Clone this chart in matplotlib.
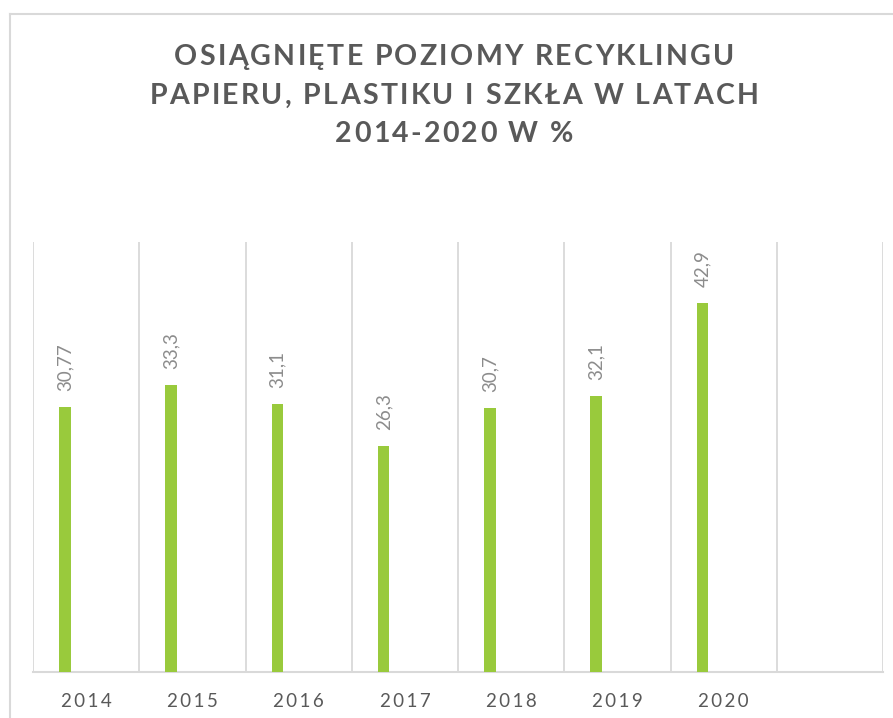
import matplotlib.pyplot as plt
from matplotlib.lines import Line2D
from matplotlib import font_manager
from matplotlib.font_manager import FontProperties
from matplotlib.ft2font import FT2Font, LoadFlags
import numpy as np

plt.rcParams['font.family'] = ['Lato', 'DejaVu Sans']

# data
years = ['2014', '2015', '2016', '2017', '2018', '2019', '2020', '']
values = [30.77, 33.3, 31.1, 26.3, 30.7, 32.1, 42.9]
labels = ['30,77', '33,3', '31,1', '26,3', '30,7', '32,1', '42,9']
title_lines = ['OSIĄGNIĘTE POZIOMY RECYKLINGU',
               'PAPIERU, PLASTIKU I SZKŁA W LATACH',
               '2014-2020 W %']

W, H = 893, 718
DPI = 100


def char_advances(s, prop, size_pt):
    """advance width of every char in pixels"""
    font = FT2Font(font_manager.findfont(prop))
    scale = size_pt * DPI / 72 / font.units_per_EM
    return [font.load_char(ord(c), flags=LoadFlags.NO_SCALE).horiAdvance * scale for c in s]


def spaced_text(fig, s, cx, base, spacing, prop, size_pt, **kw):
    """draw s centred on cx (px) with extra letter spacing, baseline at base (px from top)"""
    adv = char_advances(s, prop, size_pt)
    total = sum(adv) + spacing * (len(s) - 1)
    x = cx - total / 2
    for c, a in zip(s, adv):
        fig.text(x / W, 1 - base / H, c, ha='left', va='baseline',
                 fontproperties=prop, fontsize=size_pt, **kw)
        x += a + spacing


fig = plt.figure(figsize=(W / DPI, H / DPI), dpi=DPI)

# plot area in pixels
left, right, top, bottom = 33, 883, 241.7, 671.7
ax = fig.add_axes([left / W, 1 - bottom / H, (right - left) / W, (bottom - top) / H])

x = np.arange(len(years))
bar_x = x[:len(values)] - 0.2
ax.bar(bar_x, values, width=0.11, color='#99CA3C', zorder=3)

for bx, v, lab in zip(bar_x, values, labels):
    ax.annotate(lab, (bx, v), xytext=(0, 11.5), textcoords='offset points',
                rotation=90, ha='center', va='bottom', fontsize=13.5, color='#8C8C8C')

ax.set_xlim(-0.5, len(years) - 0.5)
ax.set_ylim(0, 50)
ax.set_yticks([])
ax.set_xticks(x)
ax.set_xticklabels(['\u2009'.join(y) for y in years], fontsize=13.5, color='#595959')
ax.set_xticks(np.arange(-0.5, len(years)), minor=True)
ax.tick_params(axis='x', which='both', length=0, pad=15)
ax.grid(which='minor', axis='x', color='#D9D9D9', linewidth=1.3)
for s in ['top', 'right', 'left']:
    ax.spines[s].set_visible(False)
ax.spines['bottom'].set_color('#D9D9D9')
ax.spines['bottom'].set_linewidth(1.5)

# title, letter spaced like the original
title_prop = FontProperties(family='Lato', weight='bold')
title_size = 20.5
adv0 = char_advances(title_lines[0], title_prop, title_size)
spacing = (560 - sum(adv0)) / (len(title_lines[0]) - 1)
for line, base in zip(title_lines, [65, 104, 142]):
    spaced_text(fig, line, 454, base, spacing, title_prop, title_size, color='#595959')

# chart area border (top and left only visible)
fig.add_artist(Line2D([10 / W, 10 / W], [0, 1 - 14 / H], color='#D9D9D9', linewidth=1.5))
fig.add_artist(Line2D([10 / W, 1], [1 - 14 / H, 1 - 14 / H], color='#D9D9D9', linewidth=1.5))

fig.savefig('out.png', dpi=DPI)
